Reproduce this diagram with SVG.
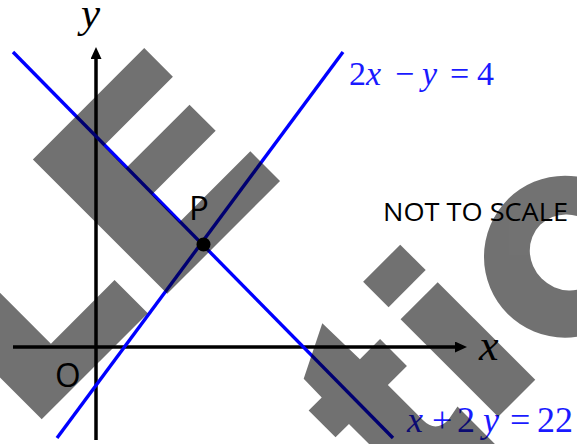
<svg xmlns="http://www.w3.org/2000/svg" width="577" height="444" viewBox="0 0 577 444">
<defs>
<marker id="arrow" markerUnits="userSpaceOnUse" markerWidth="12" markerHeight="11" viewBox="0 0 12 11" refX="1" refY="5.5" orient="auto"><path d="M0,0 L12,5.5 L0,11 Z" fill="#000"/></marker>
</defs>
<style>
.axis{stroke:#000;stroke-width:3.5;fill:none}
.line{stroke:#0000ff;stroke-width:3.4;fill:none}
.math{font-family:"Liberation Serif","Times New Roman",serif;font-style:italic}
.eq{fill:#1a1aff}
.up{font-style:normal}
.lbl{font-family:"Open Sans","Liberation Sans",sans-serif;fill:#000}
.wm{fill:#000}
</style>
<rect width="577" height="444" fill="#fff"/>
<g id="connectors">
<line id="x-axis" class="axis" x1="13" y1="347" x2="456" y2="347" marker-end="url(#arrow)"/>
<line id="y-axis" class="axis" x1="96" y1="440" x2="96" y2="58" marker-end="url(#arrow)"/>
<line id="line-x2y22" class="line" x1="13" y1="52" x2="393" y2="438"/>
<line id="line-2xy4" class="line" x1="57" y1="438" x2="343" y2="52"/>
</g>
<g id="point-P">
<circle cx="203.5" cy="244.5" r="7" fill="#000"/>
<text class="lbl" x="189" y="220" font-size="33">P</text>
</g>
<g id="origin">
<text class="lbl" x="55" y="387" font-size="33">O</text>
</g>
<g id="axis-labels">
<text class="math" x="81" y="27" font-size="43">y</text>
<text class="math" x="479" y="360" font-size="44">x</text>
</g>
<g id="eq1">
<text class="math eq" y="85" font-size="34"><tspan x="349" class="up">2</tspan><tspan x="366">x</tspan><tspan x="395" class="up">−</tspan><tspan x="422">y</tspan><tspan x="450" class="up">=</tspan><tspan x="477" class="up">4</tspan></text>
</g>
<g id="eq2">
<text class="math eq" y="432" font-size="36"><tspan x="407">x</tspan><tspan x="432" class="up">+</tspan><tspan x="457" class="up">2</tspan><tspan x="483">y</tspan><tspan x="510" class="up">=</tspan><tspan x="537" class="up">22</tspan></text>
</g>
<g id="note">
<text class="lbl" x="383" y="221" font-size="26" textLength="185" lengthAdjust="spacingAndGlyphs">NOT TO SCALE</text>
</g>
<g id="watermark" class="wm" opacity="0.553" transform="rotate(-45)">
<polygon points="-267,136 -207,136 -207,279 -117,279 -117,326 -267,326"/>
<polygon points="-89.5,136 68,136 68,176.5 -30,176.5 -30,208 60,208 60,245 -30,245 -30,284 70,284 70,326 -89.5,326"/>
<path d="M-0.7,456.5 L0.5,508.5 L29,508.5 L29,546.5 L2,546.5 L2,596 Q2,614 20,614 L36,611 L36,665 L-53,665 L-53,546.5 L-72,546.5 L-72,508.5 L-53.5,508.5 L-53,482.5 Z"/>
<rect x="57.5" y="456" width="52.5" height="36"/>
<rect x="57.5" y="509" width="52.5" height="138"/>
<path fill-rule="evenodd" d="M299,581 A81,81 0 1 0 137,581 A81,81 0 1 0 299,581 Z M260,580 A37,39 0 1 0 186,580 A37,39 0 1 0 260,580 Z"/>
</g>
</svg>
